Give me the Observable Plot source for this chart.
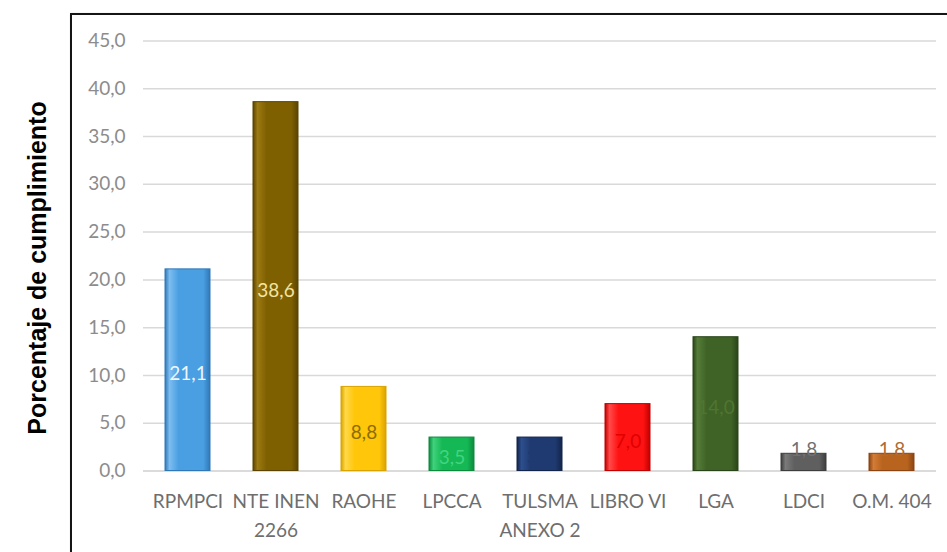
<!DOCTYPE html>
<html>
<head>
<meta charset="utf-8">
<script src="https://cdn.jsdelivr.net/npm/d3@7"></script>
<script src="https://cdn.jsdelivr.net/npm/@observablehq/plot@0.6"></script>
<style>
  html, body { margin: 0; padding: 0; background: #fff; overflow: hidden; }
  #wrap { position: relative; width: 947px; height: 552px; }
  #frame { position: absolute; left: 70px; top: 13px; width: 940px; height: 620px;
           border: 2px solid #151515; box-shadow: 1px 1px 2px #999; pointer-events: none; }
</style>
</head>
<body>
<div id="wrap"><div id="chart"></div><div id="frame"></div></div>
<script>
// ---- data ----
const categories = ["RPMPCI", "NTE INEN\n2266", "RAOHE", "LPCCA", "TULSMA\nANEXO 2", "LIBRO VI", "LGA", "LDCI", "O.M. 404"];
const values = [21.1, 38.6, 8.8, 3.5, 3.5, 7.0, 14.0, 1.8, 1.8];
const yTicks = [0, 5, 10, 15, 20, 25, 30, 35, 40, 45];
const yTitle = "Porcentaje de cumplimiento";

// ---- styles ----
const baseColors = ["#4a9fe3", "#7f6000", "#ffc60a", "#14b854", "#1f3a70", "#ff1212", "#3f6326", "#5f5f5f", "#b8631e"];
const darkColors = ["#2f78b8", "#5a4400", "#d9a300", "#0d8a3e", "#13244a", "#c00000", "#2a4419", "#3d3d3d", "#8a4512"];
const lightColors = ["#7dbdf0", "#9c7a14", "#ffd94a", "#3fd27c", "#2d4f8f", "#ff4a4a", "#557d38", "#7a7a7a", "#d27c36"];
const labelColors = ["#eef5ff", "#f3e3a2", "#8a6d00", "#42d47f", "#1f3a70", "#e00000", "#4f7530", "#707070", "#b06a30"];

const fmt = v => v.toFixed(1).replace(".", ",");
const data = categories.map((c, i) => ({cat: c, value: values[i], i}));

const plot = Plot.plot({
  width: 947,
  height: 552,
  marginLeft: 143,
  marginRight: 11,
  marginTop: 40.5,
  marginBottom: 81.5,
  style: {fontFamily: "Lato, 'Open Sans', sans-serif", background: "white"},
  x: {domain: categories, paddingInner: 0.49, paddingOuter: 0.245, label: null},
  y: {domain: [0, 45], label: null},
  color: {type: "identity"},
  marks: [
    Plot.ruleY(yTicks.filter(t => t > 0), {stroke: "#d9d9d9", strokeWidth: 1.5}),
    Plot.ruleY([0], {stroke: "#cfcfcf", strokeWidth: 1.5}),
    Plot.barY(data, {x: "cat", y: "value", fill: d => `url(#g${d.i})`, stroke: d => darkColors[d.i], strokeWidth: 1}),
    Plot.text(data.filter(d => d.value >= 3), {x: "cat", y: d => d.value / 2, text: d => fmt(d.value),
      fill: d => labelColors[d.i], fontSize: 19, dy: 4}),
    Plot.text(data.filter(d => d.value < 3), {x: "cat", y: "value", text: d => fmt(d.value),
      fill: d => labelColors[d.i], fontSize: 19, dy: -4}),
    Plot.axisY({ticks: yTicks, tickFormat: fmt, tickSize: 0, tickPadding: 18, fontSize: 19, color: "#8c8c8c", label: null}),
    Plot.axisX({tickSize: 0, tickPadding: 16, fontSize: 19, color: "#6e6e6e", lineHeight: 1.55, label: null}),
    Plot.text([yTitle], {text: d => d, frameAnchor: "left", textAnchor: "middle", lineAnchor: "middle", rotate: -90, dx: -106, dy: 12,
      fontSize: 25, fontWeight: "bold", fontFamily: "'Liberation Sans', Arial, sans-serif", fill: "#000"})
  ]
});

// horizontal gradients for a bevelled bar look
const defs = baseColors.map((c, i) => `
  <linearGradient id="g${i}" x1="0" x2="1" y1="0" y2="0">
    <stop offset="0%" stop-color="${darkColors[i]}"/>
    <stop offset="10%" stop-color="${lightColors[i]}"/>
    <stop offset="30%" stop-color="${c}"/>
    <stop offset="85%" stop-color="${c}"/>
    <stop offset="100%" stop-color="${darkColors[i]}"/>
  </linearGradient>`).join("");
plot.insertAdjacentHTML("afterbegin", `<defs>${defs}</defs>`);

document.getElementById("chart").appendChild(plot);
</script>
</body>
</html>
